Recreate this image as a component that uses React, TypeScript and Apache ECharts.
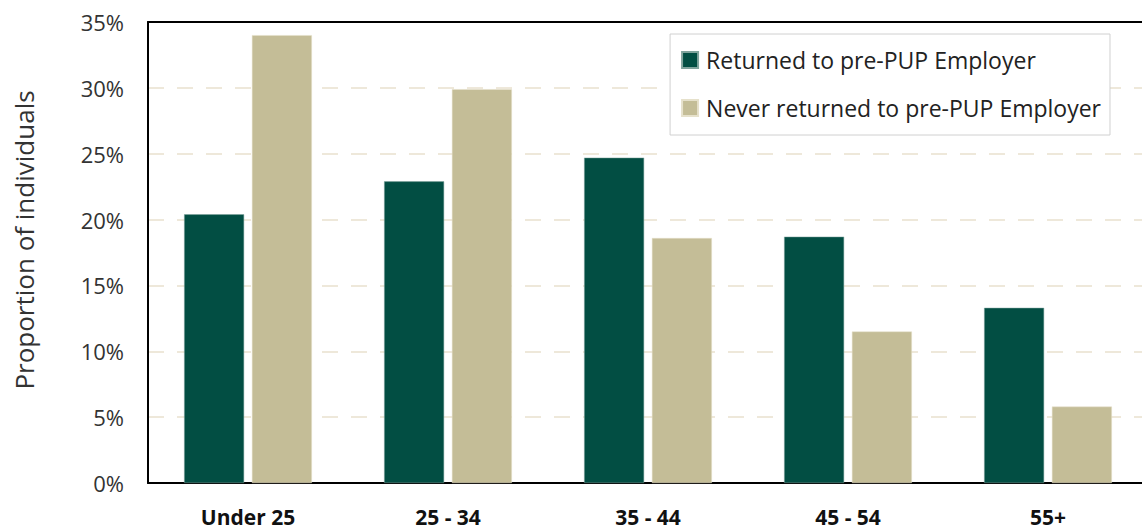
import React, { useEffect, useRef } from "react";
import * as echarts from "echarts";

const categories = ["Under 25", "25 - 34", "35 - 44", "45 - 54", "55+"];
const returnedName = "Returned to pre-PUP Employer";
const neverName = "Never returned to pre-PUP Employer";
const returnedValues = [20.4, 22.9, 24.7, 18.7, 13.3];
const neverValues = [34.0, 29.9, 18.6, 11.5, 5.8];
const yTicks = [0, 5, 10, 15, 20, 25, 30, 35];
const yAxisTitle = "Proportion of individuals";

const FONT = "'Open Sans', 'Noto Sans', sans-serif";

export default function App() {
  const ref = useRef<HTMLDivElement>(null);
  useEffect(() => {
    document.body.style.margin = "0";
    const chart = echarts.init(ref.current!, null, { renderer: "svg" });
    chart.setOption({
      animation: false,
      backgroundColor: "#ffffff",
      grid: {
        left: 148,
        top: 22,
        width: 1000,
        bottom: 48,
        show: false,
        containLabel: false,
        outerBoundsMode: "none",
      },
      legend: {
        show: true,
        right: 32,
        top: 34,
        orient: "vertical",
        itemWidth: 16,
        itemHeight: 16,
        itemGap: 22,
        padding: [13, 9, 14, 11],
        borderColor: "#d0d0d0",
        borderWidth: 1,
        backgroundColor: "#ffffff",
        icon: "rect",
        textStyle: { fontFamily: FONT, fontSize: 23, lineHeight: 26, color: "#222222", padding: [0, 0, 0, 3] },
        data: [returnedName, neverName],
      },
      graphic: [
        {
          type: "text",
          x: 24,
          y: 240,
          rotation: Math.PI / 2,
          style: {
            text: yAxisTitle,
            fontFamily: FONT,
            fontSize: 26,
            fill: "#333333",
            textAlign: "center",
            textVerticalAlign: "middle",
          },
        },
      ],
      xAxis: [
        {
          type: "category",
          data: categories,
          axisLine: { show: true, lineStyle: { color: "#000000", width: 2 } },
          axisTick: { show: false },
          axisLabel: {
            margin: 23,
            fontFamily: FONT,
            fontWeight: "bold",
            fontSize: 21,
            lineHeight: 21,
            color: "#111111",
          },
        },
        {
          type: "category",
          position: "top",
          data: categories,
          z: 10,
          axisLine: { show: true, lineStyle: { color: "#000000", width: 2 } },
          axisTick: { show: false },
          axisLabel: { show: false },
        },
      ],
      yAxis: {
        type: "value",
        min: yTicks[0],
        max: yTicks[yTicks.length - 1],
        interval: 5,
        axisLine: { show: true, lineStyle: { color: "#000000", width: 2 } },
        axisTick: { show: false },
        axisLabel: {
          margin: 24,
          fontFamily: FONT,
          fontSize: 22,
          color: "#333333",
          formatter: (v: number) => `${v}%`,
        },
        splitLine: {
          show: true,
          lineStyle: { color: "#EEE8DA", width: 2, type: [16, 13] },
        },
      },
      series: [
        {
          name: returnedName,
          type: "bar",
          xAxisIndex: 0,
          data: returnedValues,
          barWidth: 60,
          barGap: "13%",
          itemStyle: { color: "#024E43", borderColor: "#7fa39c", borderWidth: 0.5 },
        },
        {
          name: neverName,
          type: "bar",
          xAxisIndex: 0,
          data: neverValues,
          barWidth: 60,
          barGap: "13%",
          itemStyle: { color: "#C4BD97", borderColor: "#e6e1cb", borderWidth: 0.5 },
        },
      ],
    });
    return () => chart.dispose();
  }, []);
  return <div ref={ref} style={{ width: 1142, height: 531 }} />;
}
